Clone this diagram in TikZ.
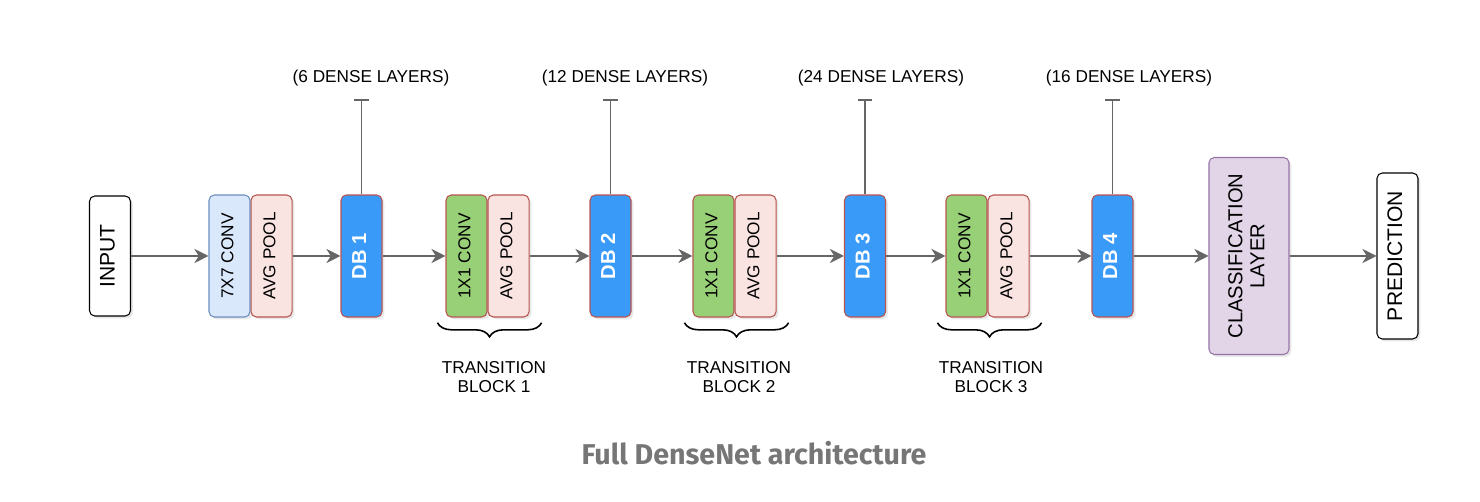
\documentclass[tikz,border=0pt]{standalone}
\usepackage{fontspec}
\setmainfont{Liberation Sans}
\newfontfamily\capfont{Fira Sans}
\usetikzlibrary{positioning,arrows.meta,decorations.pathreplacing,shadows}

\definecolor{inkgray}{HTML}{666666}
\definecolor{convfill}{HTML}{DAE8FC}
\definecolor{convline}{HTML}{6C8EBF}
\definecolor{poolfill}{HTML}{F9E4E2}
\definecolor{poolline}{HTML}{B85450}
\definecolor{dbfill}{HTML}{3A9AF8}
\definecolor{greenfill}{HTML}{97D077}
\definecolor{clsfill}{HTML}{E1D5E7}
\definecolor{clsline}{HTML}{9673A6}
\definecolor{capgray}{HTML}{767676}

\newcommand{\vtext}[1]{\rotatebox{90}{\begin{tabular}{@{}c@{}}#1\end{tabular}}}

\tikzset{
  block/.style={draw, rounded corners=3pt, line width=0.6pt, inner sep=0pt,
    minimum width=0.82cm, minimum height=2.44cm,
    font=\fontsize{9.8}{11}\selectfont,
    drop shadow={shadow xshift=1.3pt, shadow yshift=-1.3pt, opacity=0.18}},
  plain/.style={block, draw=black, fill=white,
    font=\fontsize{12}{13}\selectfont},
  conv7/.style={block, draw=convline, fill=convfill},
  pool/.style={block, draw=poolline, fill=poolfill},
  tconv/.style={block, draw=poolline, fill=greenfill},
  dense/.style={block, draw=poolline, fill=dbfill, text=white,
    font=\fontsize{11.5}{13}\selectfont\bfseries},
  flow/.style={draw=inkgray, line width=1.1pt,
    -{Stealth[length=8pt, width=8pt, inset=2.5pt]}},
  stem/.style={draw=inkgray, line width=1.1pt, -{Bar[width=8pt]}},
  brace/.style={draw=black, line width=0.9pt,
    decoration={brace, mirror, amplitude=8pt}, decorate},
  note/.style={font=\fontsize{9.8}{11}\selectfont, align=center}
}

\begin{document}
\begin{tikzpicture}[x=0.02cm, y=-0.02cm]
    \useasboundingbox (0,0) rectangle (1480,502);
    % main chain
    \node[plain, minimum height=2.4cm] (input) at (110,256) {\vtext{INPUT}};
    \node[conv7] (conv) at (229.5,256) {\vtext{7X7 CONV}};
    \node[pool, right=0pt of conv] (pool) {\vtext{AVG POOL}};
    \node[dense] (db1) at (361.5,256) {\vtext{DB 1}};
    \node[tconv] (tconv1) at (466.5,256) {\vtext{1X1 CONV}};
    \node[pool, right=0pt of tconv1] (tpool1) {\vtext{AVG POOL}};
    \node[dense] (db2) at (610.5,256) {\vtext{DB 2}};
    \node[tconv] (tconv2) at (713.5,256) {\vtext{1X1 CONV}};
    \node[pool, right=0pt of tconv2] (tpool2) {\vtext{AVG POOL}};
    \node[dense] (db3) at (865,256) {\vtext{DB 3}};
    \node[tconv] (tconv3) at (966.5,256) {\vtext{1X1 CONV}};
    \node[pool, right=0pt of tconv3] (tpool3) {\vtext{AVG POOL}};
    \node[dense] (db4) at (1112.5,256) {\vtext{DB 4}};
    \node[block, draw=clsline, fill=clsfill, minimum width=1.6cm,
      minimum height=3.94cm, font=\fontsize{11.5}{12.5}\selectfont]
      (cls) at (1249,256) {\vtext{CLASSIFICATION\\LAYER}};
    \node[plain, minimum height=3.32cm] (pred) at (1397.5,256)
      {\vtext{PREDICTION}};

    \draw[flow] (input) -- (conv);
    \draw[flow] (pool) -- (db1);
    \draw[flow] (db1) -- (tconv1);
    \draw[flow] (tpool1) -- (db2);
    \draw[flow] (db2) -- (tconv2);
    \draw[flow] (tpool2) -- (db3);
    \draw[flow] (db3) -- (tconv3);
    \draw[flow] (tpool3) -- (db4);
    \draw[flow] (db4) -- (cls);
    \draw[flow] (cls) -- (pred);

    % dense layer counts
    \foreach \db/\lx/\n in {db1/371/6, db2/625/12, db3/881/24, db4/1129/16}{
        \path (\db.north) ++(0,-95) coordinate (top-\db);
        \draw[stem] (\db.north) -- (top-\db);
        \node[note] (lbl-\db) at (\lx,78) {(\n\ DENSE LAYERS)};
    }

    % transition blocks
    \foreach \i/\tx in {1/494, 2/739, 3/991}{
        \draw[brace] ([xshift=-0.16cm, yshift=-3pt]tconv\i.south west)
          -- ([xshift=0.24cm, yshift=-3pt]tpool\i.south east);
        \node[note] (tb\i) at (\tx,377) {TRANSITION\\BLOCK \i};
    }

    \node[font=\capfont\bfseries\fontsize{16.3}{18}\selectfont, text=capgray]
      (caption) at (754,453) {Full DenseNet architecture};
\end{tikzpicture}
\end{document}
